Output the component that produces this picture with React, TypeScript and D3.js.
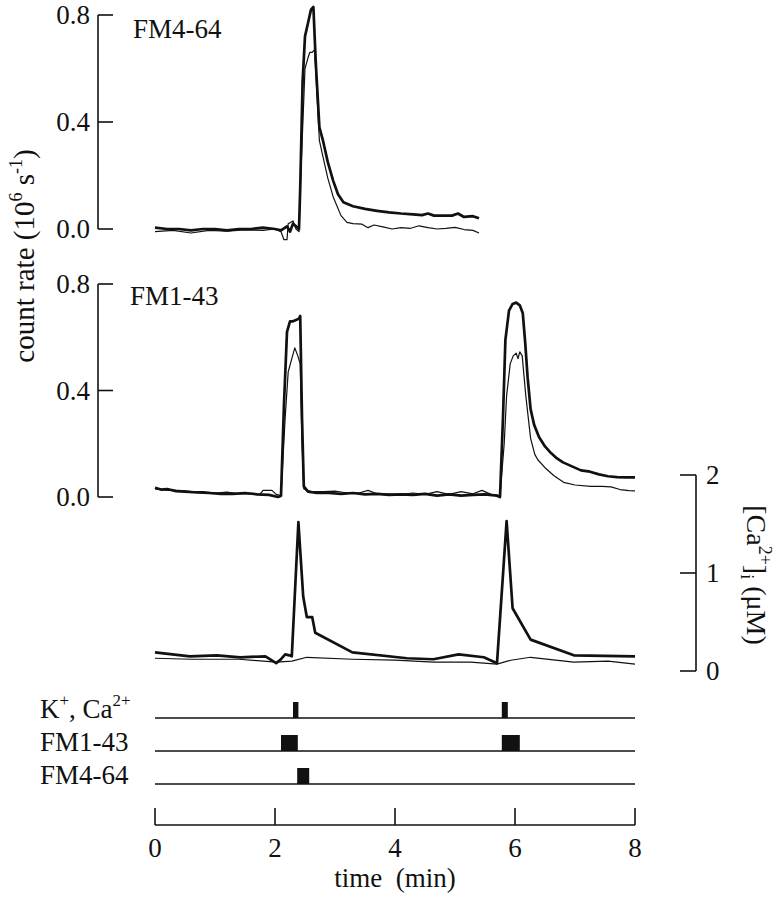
import React from "react";
import * as d3 from "d3";

// ---------- DATA ----------
const timeTicks = [0, 2, 4, 6, 8];
const countTicks = [0.0, 0.4, 0.8];
const caTicks = [0, 1, 2];

// FM4-64 panel (top)
const fm464ThickT = [0, 0.2, 0.4, 0.6, 0.8, 1.0, 1.2, 1.4, 1.6, 1.8, 2.0, 2.1, 2.2, 2.25, 2.3, 2.35, 2.4, 2.42, 2.46, 2.5, 2.55, 2.6, 2.64, 2.68, 2.74, 2.8, 2.88, 2.97, 3.05, 3.14, 3.3, 3.5, 3.7, 3.9, 4.1, 4.3, 4.45, 4.55, 4.65, 4.8, 4.95, 5.05, 5.15, 5.3, 5.4];
const fm464ThickV = [0.005, 0.0, 0.0, -0.005, 0.0, 0.0, -0.005, 0.0, 0.0, 0.005, 0.0, -0.005, 0.01, -0.01, 0.02, 0.01, 0.0, 0.15, 0.55, 0.72, 0.77, 0.82, 0.83, 0.62, 0.38, 0.33, 0.25, 0.18, 0.13, 0.1, 0.085, 0.075, 0.068, 0.062, 0.058, 0.055, 0.052, 0.058, 0.05, 0.05, 0.05, 0.058, 0.045, 0.048, 0.04];
const fm464ThinT = [0, 0.3, 0.6, 0.9, 1.2, 1.5, 1.8, 2.0, 2.1, 2.15, 2.2, 2.22, 2.3, 2.35, 2.4, 2.43, 2.5, 2.55, 2.58, 2.62, 2.66, 2.7, 2.74, 2.8, 2.88, 2.97, 3.1, 3.2, 3.3, 3.45, 3.55, 3.65, 3.8, 3.95, 4.1, 4.25, 4.4, 4.55, 4.7, 4.85, 5.0, 5.15, 5.3, 5.4];
const fm464ThinV = [-0.01, -0.005, -0.015, -0.005, -0.008, -0.003, -0.005, 0.0, -0.01, -0.04, -0.04, 0.02, 0.03, 0.0, -0.01, 0.2, 0.6, 0.64, 0.66, 0.66, 0.67, 0.5, 0.33, 0.27, 0.19, 0.12, 0.05, 0.025, 0.02, 0.018, 0.005, 0.015, 0.008, 0.0, 0.005, 0.002, 0.012, 0.005, 0.0, 0.002, 0.006, -0.002, -0.005, -0.015];

// FM1-43 panel (middle)
const fm143ThickT = [0, 0.1, 0.2, 0.35, 0.5, 0.7, 0.9, 1.1, 1.3, 1.5, 1.7, 1.9, 2.05, 2.1, 2.15, 2.2, 2.25, 2.3, 2.35, 2.4, 2.42, 2.45, 2.48, 2.55, 2.7, 2.9, 3.1, 3.3, 3.5, 3.7, 3.9, 4.1, 4.3, 4.5, 4.7, 4.9, 5.1, 5.3, 5.5, 5.7, 5.75, 5.8, 5.84, 5.9, 5.96, 6.02, 6.08, 6.13, 6.17, 6.21, 6.26, 6.32, 6.4, 6.5, 6.6, 6.7, 6.8, 6.95, 7.1, 7.25, 7.4, 7.55, 7.7, 7.85, 8.0];
const fm143ThickV = [0.035, 0.028, 0.03, 0.022, 0.02, 0.017, 0.015, 0.012, 0.012, 0.015, 0.01, 0.008, 0.0, 0.005, 0.35, 0.62, 0.66, 0.66, 0.665, 0.67, 0.68, 0.3, 0.04, 0.02, 0.015, 0.015, 0.012, 0.015, 0.01, 0.012, 0.008, 0.01, 0.008, 0.012, 0.005, 0.01, 0.005, 0.008, 0.01, 0.005, 0.0, 0.3, 0.59, 0.7, 0.725, 0.73, 0.72, 0.69, 0.58, 0.45, 0.33, 0.27, 0.225, 0.19, 0.165, 0.145, 0.13, 0.115, 0.1, 0.095, 0.085, 0.078, 0.075, 0.074, 0.074];
const fm143ThinT = [0, 0.2, 0.4, 0.6, 0.8, 1.0, 1.2, 1.4, 1.6, 1.75, 1.8, 1.95, 2.02, 2.1, 2.17, 2.22, 2.28, 2.33, 2.38, 2.42, 2.45, 2.48, 2.6, 2.8, 3.0, 3.2, 3.4, 3.55, 3.7, 3.9, 4.1, 4.3, 4.5, 4.7, 4.9, 5.1, 5.3, 5.45, 5.6, 5.75, 5.82, 5.86, 5.92, 5.97, 6.02, 6.05, 6.08, 6.12, 6.18, 6.26, 6.33, 6.38, 6.5, 6.65, 6.81, 7.0, 7.26, 7.45, 7.6, 7.75, 7.9, 8.0];
const fm143ThinV = [0.03, 0.025, 0.025, 0.02, 0.02, 0.015, 0.018, 0.012, 0.012, 0.01, 0.025, 0.025, 0.01, 0.005, 0.3, 0.47, 0.52, 0.56, 0.53, 0.5, 0.2, 0.03, 0.02, 0.02, 0.022, 0.015, 0.015, 0.025, 0.012, 0.012, 0.01, 0.015, 0.01, 0.02, 0.01, 0.02, 0.012, 0.025, 0.01, 0.005, 0.2, 0.38, 0.5, 0.53, 0.54, 0.52, 0.545, 0.53, 0.38, 0.22, 0.16, 0.14, 0.11, 0.08, 0.055, 0.045, 0.04, 0.04, 0.038, 0.028, 0.024, 0.023];

// [Ca2+]i panel
const caThickT = [0, 0.58, 1.03, 1.42, 1.84, 2.02, 2.1, 2.17, 2.24, 2.28, 2.39, 2.47, 2.53, 2.62, 2.67, 3.29, 4.2, 4.64, 5.06, 5.48, 5.7, 5.86, 5.96, 6.26, 6.98, 8.0];
const caThickV = [0.19, 0.15, 0.16, 0.14, 0.15, 0.08, 0.12, 0.17, 0.16, 0.15, 1.52, 0.76, 0.55, 0.55, 0.39, 0.19, 0.13, 0.12, 0.17, 0.14, 0.08, 1.53, 0.64, 0.32, 0.16, 0.15];
const caThinT = [0, 0.6, 1.4, 2.02, 2.28, 2.53, 3.29, 4.0, 4.64, 5.26, 5.7, 5.93, 6.26, 6.98, 7.55, 8.0];
const caThinV = [0.13, 0.12, 0.12, 0.09, 0.1, 0.14, 0.12, 0.11, 0.09, 0.09, 0.07, 0.11, 0.14, 0.09, 0.1, 0.07];

// stimulus protocol
const stimRows = ["K+, Ca2+", "FM1-43", "FM4-64"];
const stimStart = [[2.3, 5.78], [2.1, 5.78], [2.37]];
const stimEnd = [[2.39, 5.88], [2.38, 6.08], [2.57]];

// ---------- LAYOUT ----------
const W = 780;
const H = 899;
const FONT = "'Liberation Serif', 'Times New Roman', serif";
const INK = "#111";
const FS = 27;

const x = d3.scaleLinear().domain([0, 8]).range([155, 635]);
const yTop = d3.scaleLinear().domain([0, 0.8]).range([229, 15]);
const yMid = d3.scaleLinear().domain([0, 0.8]).range([497, 284]);
const yCa = d3.scaleLinear().domain([0, 2]).range([671, 475]);
const stimY = [718, 751, 784];
const axisY = 825;

function zip(t: number[], v: number[]): [number, number][] {
  return t.map((tt, i) => [tt, v[i]]);
}

function LeftAxis({ y }: { y: d3.ScaleLinear<number, number> }) {
  const ax = 98;
  return (
    <g>
      <line x1={ax} x2={ax} y1={y(0.8)} y2={y(0)} stroke={INK} strokeWidth={1.6} />
      {countTicks.map((v) => (
        <g key={v}>
          <line x1={ax} x2={ax + 15} y1={y(v)} y2={y(v)} stroke={INK} strokeWidth={1.6} />
          <text x={90} y={y(v)} dy="0.35em" textAnchor="end" fontSize={FS} fontFamily={FONT} fill={INK}>
            {d3.format(".1f")(v)}
          </text>
        </g>
      ))}
    </g>
  );
}

export default function App() {
  const line = (y: d3.ScaleLinear<number, number>) =>
    d3.line<[number, number]>().x((d) => x(d[0])).y((d) => y(d[1]));

  const traces = [
    { d: line(yTop)(zip(fm464ThickT, fm464ThickV)), w: 2.7 },
    { d: line(yTop)(zip(fm464ThinT, fm464ThinV)), w: 1.2 },
    { d: line(yMid)(zip(fm143ThickT, fm143ThickV)), w: 2.7 },
    { d: line(yMid)(zip(fm143ThinT, fm143ThinV)), w: 1.2 },
    { d: line(yCa)(zip(caThickT, caThickV)), w: 2.7 },
    { d: line(yCa)(zip(caThinT, caThinV)), w: 1.2 },
  ];

  const caAx = 696;

  return (
    <svg width={W} height={H} style={{ position: "absolute", left: 0, top: 0, background: "#fff" }}>
      <rect width={W} height={H} fill="#fff" />
      <LeftAxis y={yTop} />
      <LeftAxis y={yMid} />
      <text x={133} y={38} fontSize={FS} fontFamily={FONT} fill={INK}>FM4-64</text>
      <text x={130} y={305} fontSize={FS} fontFamily={FONT} fill={INK}>FM1-43</text>

      {/* y label */}
      <text transform="translate(34,256) rotate(-90)" textAnchor="middle" fontSize={29} fontFamily={FONT} fill={INK}>
        count rate (10<tspan fontSize={18} dy={-12}>6</tspan>
        <tspan dy={12}> s</tspan>
        <tspan fontSize={18} dy={-12}>-1</tspan>
        <tspan dy={12}>)</tspan>
      </text>

      {traces.map((tr, i) => (
        <path key={i} d={tr.d || ""} fill="none" stroke={INK} strokeWidth={tr.w} strokeLinejoin="round" />
      ))}

      {/* Ca axis */}
      <line x1={caAx} x2={caAx} y1={yCa(2)} y2={yCa(0)} stroke={INK} strokeWidth={1.6} />
      {caTicks.map((v) => (
        <g key={v}>
          <line x1={caAx - 16} x2={caAx} y1={yCa(v)} y2={yCa(v)} stroke={INK} strokeWidth={1.6} />
          <text x={706} y={yCa(v)} dy="0.35em" fontSize={FS} fontFamily={FONT} fill={INK}>{v}</text>
        </g>
      ))}
      <text transform="translate(747,575) rotate(90)" textAnchor="middle" fontSize={28} fontFamily={FONT} fill={INK}>
        [Ca<tspan fontSize={18} dy={-12}>2+</tspan>
        <tspan dy={12}>]</tspan>
        <tspan fontSize={18} dy={6}>i</tspan>
        <tspan dy={-6}> (μM)</tspan>
      </text>

      {/* stimulus rows */}
      {stimRows.map((name, r) => (
        <g key={name}>
          <line x1={x(0)} x2={x(8)} y1={stimY[r]} y2={stimY[r]} stroke={INK} strokeWidth={1.6} />
          {stimStart[r].map((s, k) => (
            <rect key={k} x={x(s)} y={stimY[r] - 16} width={x(stimEnd[r][k]) - x(s)} height={16} fill={INK} />
          ))}
          {r === 0 ? (
            <text x={40} y={stimY[r]} fontSize={FS} fontFamily={FONT} fill={INK}>
              K<tspan fontSize={17} dy={-12}>+</tspan>
              <tspan dy={12}>, Ca</tspan>
              <tspan fontSize={17} dy={-12}>2+</tspan>
            </text>
          ) : (
            <text x={40} y={stimY[r]} fontSize={FS} fontFamily={FONT} fill={INK}>{name}</text>
          )}
        </g>
      ))}

      {/* time axis */}
      <line x1={x(0)} x2={x(8)} y1={axisY} y2={axisY} stroke={INK} strokeWidth={1.6} />
      {timeTicks.map((t) => (
        <g key={t}>
          <line x1={x(t)} x2={x(t)} y1={axisY} y2={axisY - 17} stroke={INK} strokeWidth={1.6} />
          <text x={x(t)} y={857} textAnchor="middle" fontSize={FS} fontFamily={FONT} fill={INK}>{t}</text>
        </g>
      ))}
      <text x={x(4)} y={887} textAnchor="middle" fontSize={FS} fontFamily={FONT} fill={INK} style={{ whiteSpace: "pre" }}>
        {"time  (min)"}
      </text>
    </svg>
  );
}
